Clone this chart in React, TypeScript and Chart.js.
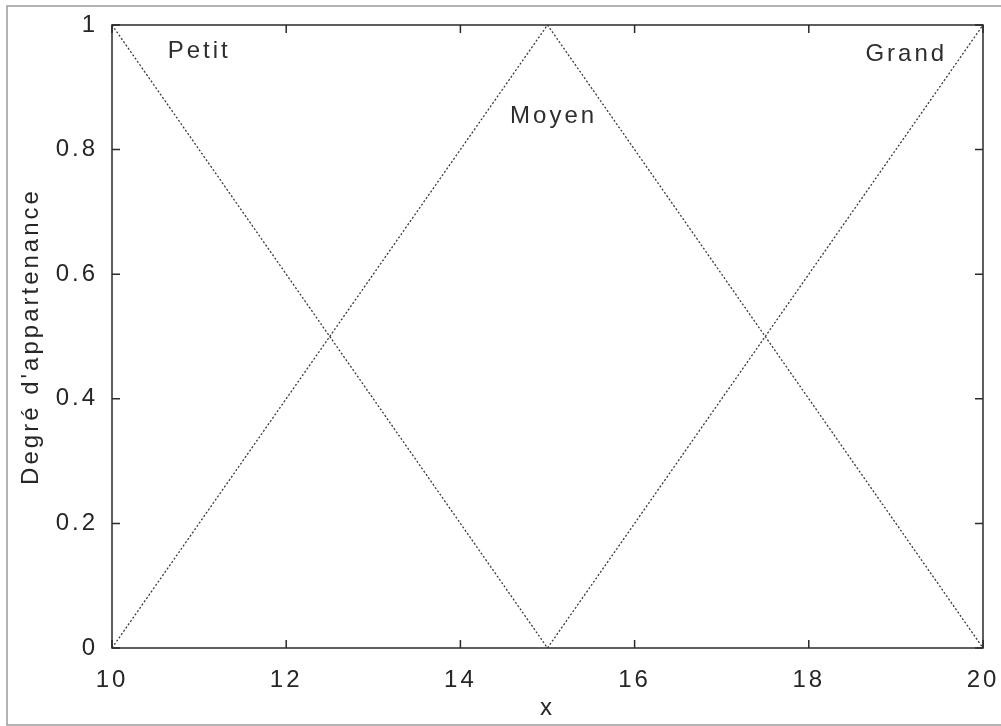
import { useEffect, useRef } from 'react';
import { Chart, registerables } from 'chart.js';

Chart.register(...registerables);

// Triangular membership functions on the universe x ∈ [10, 20]
const petitX = [10, 15];
const petitY = [1, 0];
const moyenX = [10, 15, 20];
const moyenY = [0, 1, 0];
const grandX = [15, 20];
const grandY = [0, 1];

// Set names and where their labels sit (data coordinates)
const setNames = ['Petit', 'Moyen', 'Grand'];
const setLabelX = [10.64, 14.57, 18.65];
const setLabelY = [0.957, 0.854, 0.953];

// Axis ranges and tick steps
const xRange = [10, 20];
const xStep = 2;
const yRange = [0, 1];
const yStep = 0.2;

const xTitle = 'x';
const yTitle = "Degré d'appartenance";

const FONT = '"Liberation Sans", Arial, Helvetica, sans-serif';
const TEXT_COLOR = '#262626';
const LETTER_SPACING = '3px';

export default function App() {
  const ref = useRef<HTMLCanvasElement>(null);

  useEffect(() => {
    const canvas = ref.current;
    if (!canvas) return;

    const toPoints = (xs: number[], ys: number[]) => xs.map((x, i) => ({ x, y: ys[i] }));
    const lineStyle = {
      borderColor: '#3a3a3a',
      borderWidth: 1.3,
      borderDash: [2, 2],
      pointRadius: 0,
      tension: 0,
      fill: false,
    };

    // Wide, spaced lettering for every piece of text on the canvas
    const spacingPlugin = {
      id: 'letterSpacing',
      beforeUpdate(chart: any) {
        chart.ctx.letterSpacing = LETTER_SPACING;
      },
      beforeDraw(chart: any) {
        chart.ctx.letterSpacing = LETTER_SPACING;
      },
    };

    // Outer figure border, axes box with inward ticks on all four sides, set labels
    const framePlugin = {
      id: 'axesFrame',
      beforeDraw(chart: any) {
        const ctx = chart.ctx as CanvasRenderingContext2D;
        ctx.save();
        ctx.strokeStyle = '#9a9a9a';
        ctx.lineWidth = 1.5;
        ctx.beginPath();
        ctx.moveTo(1010, 6);
        ctx.lineTo(7, 6);
        ctx.lineTo(7, 725);
        ctx.lineTo(1010, 725);
        ctx.stroke();
        ctx.restore();
      },
      afterDatasetsDraw(chart: any) {
        const ctx = chart.ctx as CanvasRenderingContext2D;
        const { left, right, top, bottom } = chart.chartArea;
        const xs = chart.scales.x;
        const ys = chart.scales.y;
        const tick = 8;
        ctx.save();
        ctx.strokeStyle = '#2a2a2a';
        ctx.lineWidth = 1.5;
        ctx.strokeRect(left, top, right - left, bottom - top);
        ctx.beginPath();
        xs.ticks.forEach((t: any) => {
          const px = xs.getPixelForValue(t.value);
          ctx.moveTo(px, bottom);
          ctx.lineTo(px, bottom - tick);
          ctx.moveTo(px, top);
          ctx.lineTo(px, top + tick);
        });
        ys.ticks.forEach((t: any) => {
          const py = ys.getPixelForValue(t.value);
          ctx.moveTo(left, py);
          ctx.lineTo(left + tick, py);
          ctx.moveTo(right, py);
          ctx.lineTo(right - tick, py);
        });
        ctx.stroke();

        ctx.fillStyle = '#2e2e2e';
        ctx.font = `24px ${FONT}`;
        (ctx as any).letterSpacing = LETTER_SPACING;
        ctx.textAlign = 'left';
        ctx.textBaseline = 'middle';
        setNames.forEach((name, i) => {
          ctx.fillText(name, xs.getPixelForValue(setLabelX[i]), ys.getPixelForValue(setLabelY[i]));
        });
        ctx.restore();
      },
    };

    const chart = new Chart(canvas, {
      type: 'line',
      data: {
        datasets: [
          { label: setNames[0], data: toPoints(petitX, petitY), ...lineStyle },
          { label: setNames[1], data: toPoints(moyenX, moyenY), ...lineStyle },
          { label: setNames[2], data: toPoints(grandX, grandY), ...lineStyle },
        ],
      },
      options: {
        responsive: false,
        animation: false,
        devicePixelRatio: 1,
        layout: { padding: { top: 25, right: 18, left: 0, bottom: 0 } },
        plugins: {
          legend: { display: false },
          tooltip: { enabled: false },
        },
        scales: {
          x: {
            type: 'linear',
            min: xRange[0],
            max: xRange[1],
            grid: { display: false },
            border: { display: false },
            ticks: {
              stepSize: xStep,
              padding: 10,
              color: TEXT_COLOR,
              font: { family: FONT, size: 24 },
              maxRotation: 0,
              autoSkip: false,
            },
            title: {
              display: true,
              text: xTitle,
              color: TEXT_COLOR,
              font: { family: FONT, size: 24 },
              padding: { top: 0, bottom: 3 },
            },
            afterFit(scale: any) {
              scale.height = 78;
              scale.paddingLeft = 0;
              scale.paddingRight = 0;
            },
          },
          y: {
            type: 'linear',
            min: yRange[0],
            max: yRange[1],
            grid: { display: false },
            border: { display: false },
            ticks: {
              stepSize: yStep,
              padding: 6,
              color: TEXT_COLOR,
              font: { family: FONT, size: 24 },
              callback: (v: any) => String(Math.round(Number(v) * 10) / 10),
            },
            title: {
              display: true,
              text: yTitle,
              color: TEXT_COLOR,
              font: { family: FONT, size: 24 },
              padding: { top: 17, bottom: 0 },
            },
            afterFit(scale: any) {
              scale.width = 112;
              scale.paddingTop = 0;
              scale.paddingBottom = 0;
            },
          },
        },
      } as any,
      plugins: [spacingPlugin, framePlugin],
    });

    return () => chart.destroy();
  }, []);

  return (
    <div style={{ position: 'fixed', left: 0, top: 0, width: 1001, height: 726, background: '#fff' }}>
      <canvas ref={ref} width={1001} height={726} style={{ display: 'block' }} />
    </div>
  );
}
